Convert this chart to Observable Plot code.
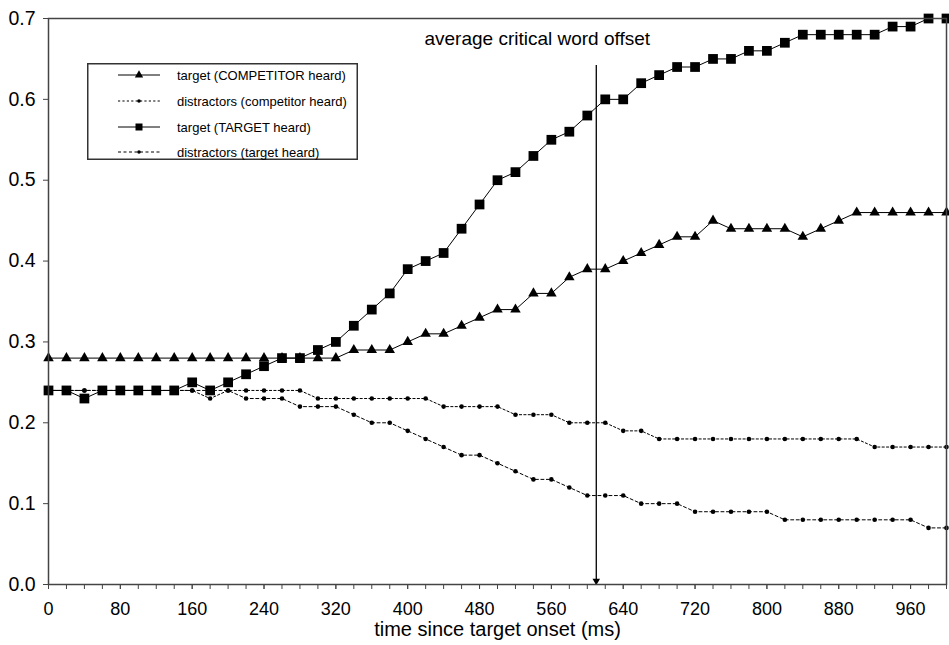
<!DOCTYPE html>
<html>
<head>
<meta charset="utf-8">
<script src="https://cdn.jsdelivr.net/npm/d3@7"></script>
<script src="https://cdn.jsdelivr.net/npm/@observablehq/plot@0.6"></script>
<style>
  html, body { margin: 0; padding: 0; background: #fff; }
  #wrap { position: relative; width: 949px; height: 645px; font-family: "Liberation Sans", Arial, Helvetica, sans-serif; }
  #legend { position: absolute; left: 87px; top: 63px; }
</style>
</head>
<body>
<div id="wrap"><div id="chart"></div><div id="legend"></div></div>
<script>
// ---- data ----
const timeMs = [0,20,40,60,80,100,120,140,160,180,200,220,240,260,280,300,320,340,360,380,
  400,420,440,460,480,500,520,540,560,580,600,620,640,660,680,700,720,740,760,780,
  800,820,840,860,880,900,920,940,960,980,1000];

const targetCompetitorHeard = [0.28,0.28,0.28,0.28,0.28,0.28,0.28,0.28,0.28,0.28,0.28,0.28,0.28,0.28,0.28,0.28,0.28,
  0.29,0.29,0.29,0.30,0.31,0.31,0.32,0.33,0.34,0.34,0.36,0.36,0.38,0.39,0.39,0.40,0.41,0.42,0.43,0.43,
  0.45,0.44,0.44,0.44,0.44,0.43,0.44,0.45,0.46,0.46,0.46,0.46,0.46,0.46];

const distractorsCompetitorHeard = [0.24,0.24,0.24,0.24,0.24,0.24,0.24,0.24,0.24,0.23,0.24,0.24,0.24,0.24,0.24,
  0.23,0.23,0.23,0.23,0.23,0.23,0.23,0.22,0.22,0.22,0.22,0.21,0.21,0.21,0.20,0.20,0.20,0.19,0.19,
  0.18,0.18,0.18,0.18,0.18,0.18,0.18,0.18,0.18,0.18,0.18,0.18,0.17,0.17,0.17,0.17,0.17];

const targetTargetHeard = [0.24,0.24,0.23,0.24,0.24,0.24,0.24,0.24,0.25,0.24,0.25,0.26,0.27,0.28,0.28,0.29,
  0.30,0.32,0.34,0.36,0.39,0.40,0.41,0.44,0.47,0.50,0.51,0.53,0.55,0.56,0.58,0.60,0.60,0.62,0.63,
  0.64,0.64,0.65,0.65,0.66,0.66,0.67,0.68,0.68,0.68,0.68,0.68,0.69,0.69,0.70,0.70];

const distractorsTargetHeard = [0.24,0.24,0.24,0.24,0.24,0.24,0.24,0.24,0.24,0.24,0.24,0.23,0.23,0.23,
  0.22,0.22,0.22,0.21,0.20,0.20,0.19,0.18,0.17,0.16,0.16,0.15,0.14,0.13,0.13,0.12,0.11,0.11,0.11,
  0.10,0.10,0.10,0.09,0.09,0.09,0.09,0.09,0.08,0.08,0.08,0.08,0.08,0.08,0.08,0.08,0.07,0.07];

const seriesLabels = ["target (COMPETITOR heard)", "distractors (competitor heard)", "target (TARGET heard)", "distractors  (target heard)"];

const xLabelTicks = [0,80,160,240,320,400,480,560,640,720,800,880,960];
const yTicks = [0,0.1,0.2,0.3,0.4,0.5,0.6,0.7];
const xAxisTitle = "time since target onset (ms)";
const annotationText = "average critical word offset";
const criticalOffsetMs = 610;
const annotationTop = 0.642;

// ---- build tables ----
const toRows = vals => vals.map((v, i) => ({time: timeMs[i], value: v}));
const triRows = toRows(targetCompetitorHeard);
const dcRows = toRows(distractorsCompetitorHeard);
const sqRows = toRows(targetTargetHeard);
const dtRows = toRows(distractorsTargetHeard);

const dashComp = "2.2,2.2";
const dashTarg = "3,2.5";

const chart = Plot.plot({
  width: 949,
  height: 645,
  marginLeft: 48,
  marginRight: 3,
  marginTop: 18,
  marginBottom: 61,
  style: {fontFamily: "'Liberation Sans', Arial, Helvetica, sans-serif", background: "#fff", color: "#000"},
  x: {domain: [0, 1000], label: null},
  y: {domain: [0, 0.7], label: null},
  marks: [
    Plot.axisX(timeMs, {tickSize: 5, tickFormat: () => "", stroke: "#444", label: null}),
    Plot.axisX(xLabelTicks, {tickSize: 5, tickPadding: 13, fontSize: 18, stroke: "#444", label: null}),
    Plot.axisY(yTicks, {tickSize: 5, tickPadding: 8, fontSize: 19.5, tickFormat: d3.format(".1f"), stroke: "#444", label: null}),
    Plot.text([xAxisTitle], {frameAnchor: "bottom", dy: 51, fontSize: 20}),
    // annotation
    Plot.ruleX([criticalOffsetMs], {y1: annotationTop, y2: 0, stroke: "#000", strokeWidth: 1.3}),
    Plot.dot([criticalOffsetMs], {x: d => d, y: 0, symbol: "triangle", rotate: 180, r: 2.8, fill: "#000", dy: -3.5}),
    Plot.text([annotationText], {x: criticalOffsetMs, y: 0.7, dx: -59, dy: 20, fontSize: 19}),
    // distractors
    Plot.line(dcRows, {x: "time", y: "value", stroke: "#000", strokeWidth: 1, strokeDasharray: dashComp}),
    Plot.dot(dcRows, {x: "time", y: "value", r: 2.3, fill: "#000"}),
    Plot.line(dtRows, {x: "time", y: "value", stroke: "#000", strokeWidth: 1, strokeDasharray: dashTarg}),
    Plot.dot(dtRows, {x: "time", y: "value", r: 2.3, fill: "#000"}),
    // targets
    Plot.line(triRows, {x: "time", y: "value", stroke: "#000", strokeWidth: 1}),
    Plot.dot(triRows, {x: "time", y: "value", symbol: "triangle", r: 3.9, fill: "#000"}),
    Plot.line(sqRows, {x: "time", y: "value", stroke: "#000", strokeWidth: 1}),
    Plot.dot(sqRows, {x: "time", y: "value", symbol: "square", r: 5.5, fill: "#000"}),
    Plot.frame({stroke: "#444", strokeWidth: 1.5})
  ]
});
document.getElementById("chart").appendChild(chart);

// ---- legend ----
const lw = 271, lh = 97;
const leg = d3.select("#legend").append("svg").attr("width", lw).attr("height", lh);
leg.append("rect").attr("x", 0.75).attr("y", 0.75).attr("width", lw - 1.5).attr("height", lh - 1.5)
  .attr("fill", "#fff").attr("stroke", "#333").attr("stroke-width", 1.5);
const legItems = [
  {label: seriesLabels[0], dash: null, sym: "triangle"},
  {label: seriesLabels[1], dash: dashComp, sym: "dot"},
  {label: seriesLabels[2], dash: null, sym: "square"},
  {label: seriesLabels[3], dash: dashTarg, sym: "dot"}
];
const rowY = [12, 38, 64, 89];
legItems.forEach((it, i) => {
  const g = leg.append("g").attr("transform", `translate(0,${rowY[i]})`);
  g.append("line").attr("x1", 31).attr("x2", 73).attr("y1", 0).attr("y2", 0)
    .attr("stroke", "#000").attr("stroke-width", 1).attr("stroke-dasharray", it.dash);
  const sym = it.sym === "triangle" ? d3.symbolTriangle : it.sym === "square" ? d3.symbolSquare : d3.symbolCircle;
  const size = it.sym === "triangle" ? 30 : it.sym === "square" ? 49 : 10;
  g.append("path").attr("d", d3.symbol(sym, size)()).attr("transform", "translate(52,0)").attr("fill", "#000");
  g.append("text").attr("x", 90).attr("y", 0).attr("dy", "0.35em")
    .attr("font-size", 13).attr("font-family", "'Liberation Sans', Arial, sans-serif").text(it.label);
});
</script>
</body>
</html>
